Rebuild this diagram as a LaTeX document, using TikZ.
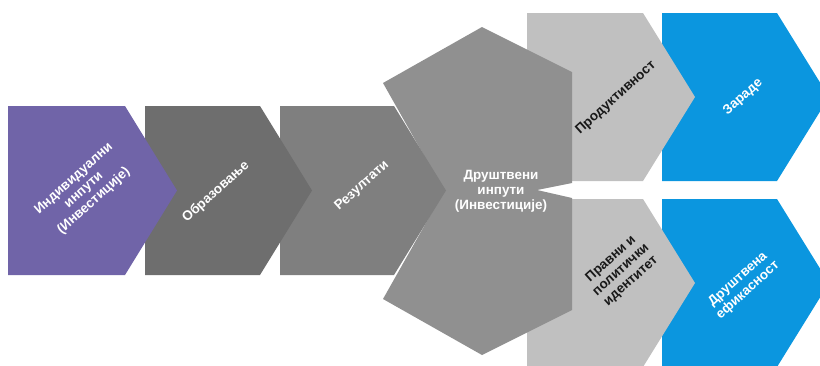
\documentclass[tikz,border=0pt]{standalone}
\usepackage{fontspec}
\setmainfont{Liberation Sans}
\usetikzlibrary{positioning}
\definecolor{purp}{HTML}{7064A8}
\definecolor{darkg}{HTML}{6E6E6E}
\definecolor{midg}{HTML}{7F7F7F}
\definecolor{hexg}{HTML}{909090}
\definecolor{lightg}{HTML}{C0C0C0}
\definecolor{skyb}{HTML}{0B96DF}
\tikzset{
	lbl/.style={text=white, font=\bfseries\fontsize{13.5}{15}\selectfont, align=center, inner sep=0pt},
	dlbl/.style={lbl, text=black!90},
	tilt/.style={rotate=42}
}
% chevron: left x, right x of flat part, top y, bottom y, colour
\newcommand{\chev}[5]{\fill[#5] (#1,#3) -- (#2,#3) -- (#2+52,{(#3+#4)/2}) -- (#2,#4) -- (#1,#4) -- cycle;}

\begin{document}
\begin{tikzpicture}[x=1bp,y=-1bp]
	\useasboundingbox (0,0) rectangle (820,365);
	% right column first, so the left shapes lie on top
	\chev{662}{777}{13}{181}{skyb}
	\chev{662}{777}{199}{367}{skyb}
	\chev{527}{643}{13}{181}{lightg}
	\chev{527}{643}{199}{367}{lightg}
	\fill[hexg] (482,27) -- (572,72) -- (572,183) -- (537,190) -- (572,198) -- (572,310)
		-- (482,355) -- (383,299) -- (444,191) -- (383,83) -- cycle;
	\chev{280}{394}{106}{275}{midg}
	\chev{145}{260}{106}{275}{darkg}
	\chev{8}{125}{106}{275}{purp}
	% labels
	\node[lbl,tilt] (indiv) at (84,190) {Индивидуални\\инпути\\(Инвестиције)};
	\node[lbl,tilt] (obraz) at (216,192) {Образовање};
	\node[lbl,tilt] (rezul) at (362,186) {Резултати};
	\node[lbl] (drust) at (501,191) {Друштвени\\инпути\\(Инвестиције)};
	\node[dlbl,tilt] (prod) at (616,98) {Продуктивност};
	\node[dlbl,tilt] (pravni) at (621,270) {Правни и\\политички\\идентитет};
	\node[lbl,tilt] (zarade) at (743,97) {Зараде};
	\node[lbl,tilt] (efik) at (743,285) {Друштвена\\ефикасност};
\end{tikzpicture}
\end{document}
